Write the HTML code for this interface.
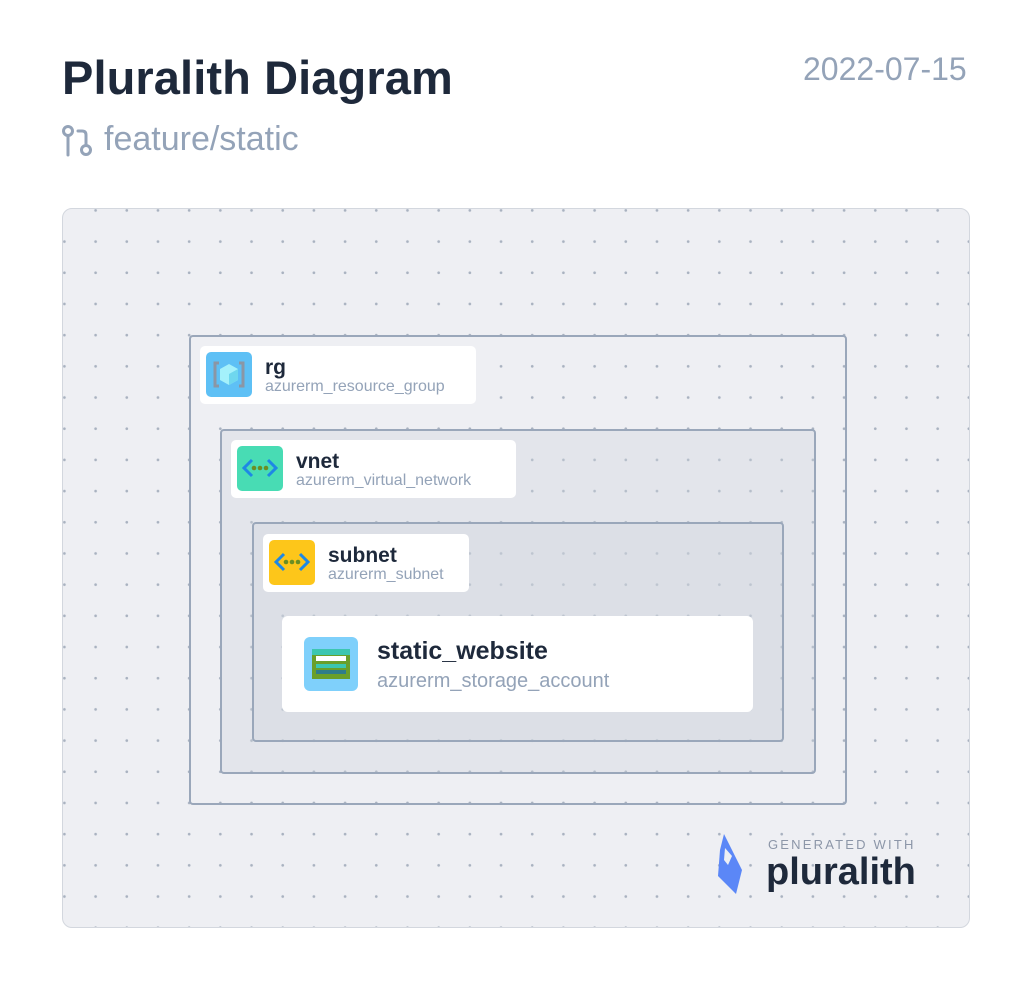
<!DOCTYPE html>
<html><head><meta charset="utf-8"><style>
*{margin:0;padding:0;box-sizing:border-box}
body{width:1032px;height:990px;background:#fff;font-family:"Liberation Sans",sans-serif;position:relative;overflow:hidden}
.a{position:absolute}
.panel{left:62px;top:208px;width:908px;height:720px;background-color:#eeeff3;border:1.5px solid #d3d7de;border-radius:10px;
background-image:radial-gradient(circle,#a9b2c0 1.1px,transparent 1.6px);background-size:31.2px 31.2px;background-position:17px 17px}
.box{border:2px solid #9aa7ba;border-radius:4px}
.lbl{background:#fff;border-radius:5px}
.ic{position:absolute;left:6px;top:6px;width:46px;height:45px;border-radius:5px}
.t{position:absolute;left:65px;top:10px;font-weight:bold;font-size:21px;color:#1e293b}
.s{position:absolute;left:65px;top:32px;font-size:16px;color:#94a3b8}
</style></head><body>
<div class="a" style="left:62px;top:50px;font-size:47px;font-weight:bold;color:#1e293b;letter-spacing:0.1px">Pluralith Diagram</div>
<div class="a" style="left:803px;top:51px;font-size:32px;color:#94a3b8">2022-07-15</div>
<svg class="a" style="left:60px;top:124px" width="34" height="34" viewBox="0 0 34 34" fill="none" stroke="#94a3b8" stroke-width="3" stroke-linecap="round"><circle cx="8" cy="7" r="4.5"/><line x1="8" y1="12" x2="8" y2="31"/><circle cx="26" cy="26" r="4.5"/><path d="M26 21 V11 Q26 7 22 7 H18"/></svg>
<div class="a" style="left:104px;top:120px;font-size:34px;color:#94a3b8">feature/static</div>

<div class="a panel"></div>
<div class="a box" style="left:189px;top:335px;width:658px;height:470px;background:transparent"></div>
<div class="a box" style="left:220px;top:429px;width:596px;height:345px;background:rgba(205,211,222,0.35)"></div>
<div class="a box" style="left:252px;top:522px;width:532px;height:220px;background:rgba(205,211,222,0.35)"></div>

<div class="a lbl" style="left:200px;top:346px;width:276px;height:58px">
 <div class="ic" style="background:#5ec0f5"><svg width="46" height="45"><path d="M13 11 H9 V34 H13 M33 11 H37 V34 H33" stroke="#8b96a5" stroke-width="3" fill="none"/><polygon points="23,12 32,17 32,28 23,33 14,28 14,17" fill="#a4f1fb"/><polygon points="23,22 32,17 32,28 23,33" fill="#6fd7ee"/></svg></div>
 <div class="t">rg</div><div class="s">azurerm_resource_group</div></div>
<div class="a lbl" style="left:231px;top:440px;width:285px;height:58px">
 <div class="ic" style="background:#48dcb4"><svg width="46" height="45"><path d="M15 14 L7 22 L15 30 M31 14 L39 22 L31 30" stroke="#1e88e5" stroke-width="3" fill="none"/><circle cx="17" cy="22" r="2.3" fill="#6b8e23"/><circle cx="23" cy="22" r="2.3" fill="#6b8e23"/><circle cx="29" cy="22" r="2.3" fill="#6b8e23"/></svg></div>
 <div class="t">vnet</div><div class="s">azurerm_virtual_network</div></div>
<div class="a lbl" style="left:263px;top:534px;width:206px;height:58px">
 <div class="ic" style="background:#fdc61a"><svg width="46" height="45"><path d="M15 14 L7 22 L15 30 M31 14 L39 22 L31 30" stroke="#1e88e5" stroke-width="3" fill="none"/><circle cx="17" cy="22" r="2.3" fill="#6b8e23"/><circle cx="23" cy="22" r="2.3" fill="#6b8e23"/><circle cx="29" cy="22" r="2.3" fill="#6b8e23"/></svg></div>
 <div class="t">subnet</div><div class="s">azurerm_subnet</div></div>

<div class="a lbl" style="left:282px;top:616px;width:471px;height:96px;border-radius:6px">
 <div style="position:absolute;left:22px;top:21px;width:54px;height:54px;border-radius:6px;background:#7fd0fb">
  <svg width="54" height="54"><rect x="8" y="12" width="38" height="30" fill="#6a9f2a"/><rect x="8" y="12" width="38" height="6" fill="#3cc6b0"/><rect x="12" y="19" width="30" height="5" fill="#fff"/><rect x="12" y="27" width="30" height="4" fill="#3cc6b0"/><rect x="12" y="33" width="30" height="4" fill="#2f7d8a"/></svg></div>
 <div style="position:absolute;left:95px;top:21px;font-size:25px;font-weight:bold;color:#1e293b">static_website</div>
 <div style="position:absolute;left:95px;top:54px;font-size:20px;color:#94a3b8">azurerm_storage_account</div>
</div>

<svg class="a" style="left:716px;top:832px" width="34" height="64"><polygon points="8,2 26,38 20,62 2,44 4,18" fill="#5b87f7"/><polygon points="9,16 16,24 12,33 8,28" fill="#eeeff3"/></svg>
<div class="a" style="left:768px;top:837px;font-size:13px;letter-spacing:2.2px;color:#8c96a8">GENERATED WITH</div>
<div class="a" style="left:766px;top:851px;font-size:38px;font-weight:bold;color:#1e293b;letter-spacing:0px">pluralith</div>
</body></html>
